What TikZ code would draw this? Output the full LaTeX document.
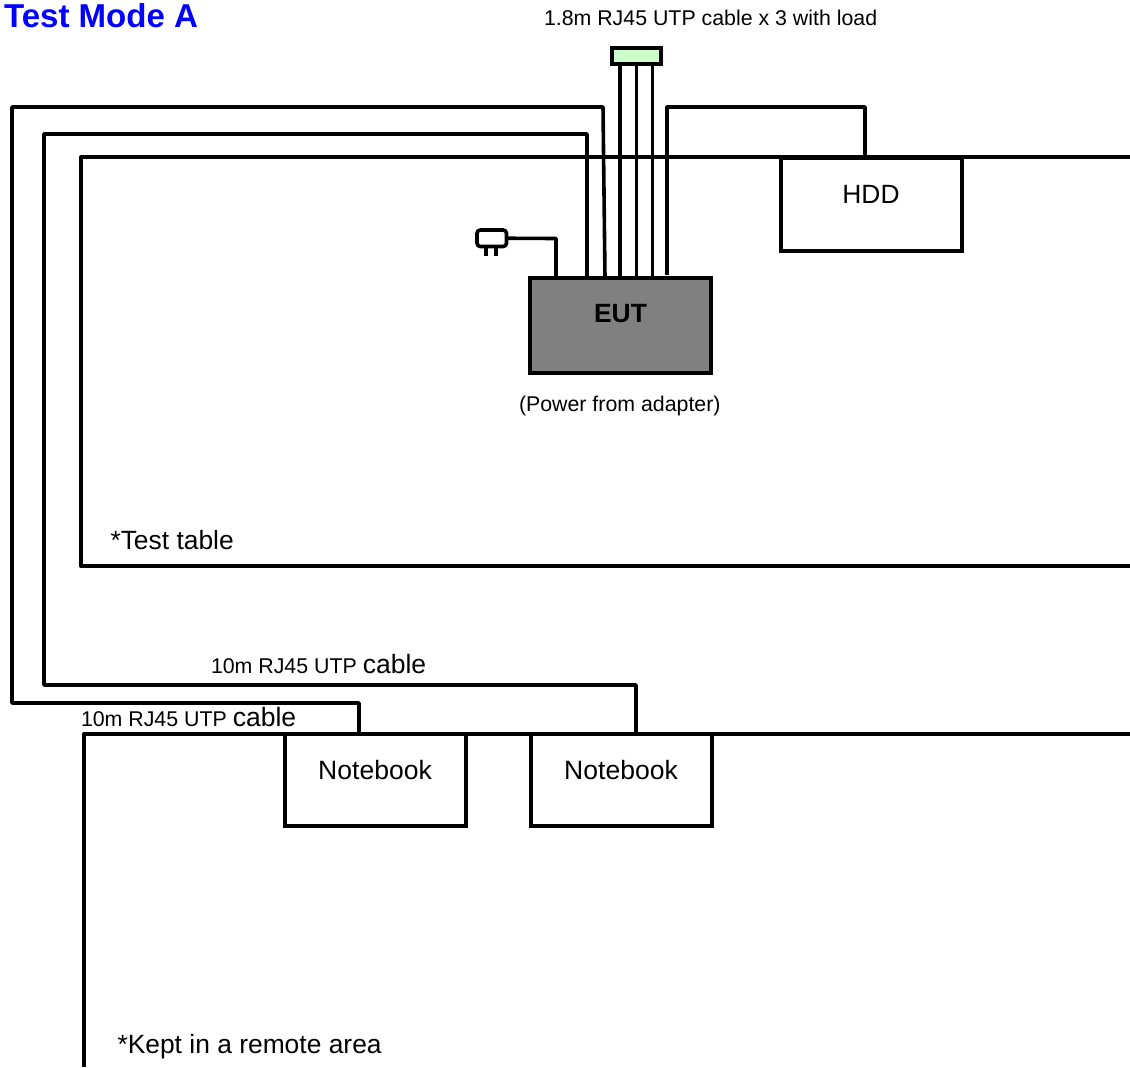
\documentclass[tikz,border=0pt]{standalone}
\usepackage{fontspec}
\setmainfont{Liberation Sans}
\definecolor{loadgreen}{RGB}{204,255,204}
\definecolor{eutgray}{RGB}{128,128,128}
\definecolor{titleblue}{RGB}{0,0,255}
\newcommand{\fs}[1]{\fontsize{#1}{#1}\selectfont}
\tikzset{
  px/.style={x=0.75pt,y=-0.75pt},
  heavy/.style={line width=3pt,line join=round},
  wire/.style={line width=2.7pt,line join=round},
  boxnode/.style={draw=black,line width=3pt,fill=white,inner sep=0pt,outer sep=0pt,text=black,align=center},
  lab/.style={inner sep=0pt,outer sep=0pt,anchor=base west,text=black},
}
\begin{document}
\begin{tikzpicture}[px]
\useasboundingbox[fill=white] (0,0) rectangle (1130,1067);
% table edges
\coordinate (tableR) at (1130,157);
\coordinate (tableC) at (81,157);
\coordinate (tableB) at (81,566);
\coordinate (tableE) at (1130,566);
\draw[heavy] (tableR) -- (tableC) -- (tableB) -- (tableE);
\coordinate (remR) at (1130,734);
\coordinate (remC) at (84,734);
\coordinate (remB) at (84,1067);
\draw[heavy] (remR) -- (remC) -- (remB);
% nodes
\node[boxnode,fill=eutgray,minimum width=181pt*0.75,minimum height=95pt*0.75] (eut) at (620.5,325.5) {};
\node[lab,anchor=base] (eutl) at (620.5,322) {\fs{19.8pt}\bfseries EUT};
\node[boxnode,minimum width=181pt*0.75,minimum height=93pt*0.75] (hdd) at (871,204) {};
\node[lab,anchor=base] (hddl) at (871,203) {\fs{19.8pt}HDD};
\node[boxnode,minimum width=181pt*0.75,minimum height=92pt*0.75] (nb1) at (375,780) {};
\node[lab,anchor=base] (nb1l) at (375,779) {\fs{19.9pt}Notebook};
\node[boxnode,minimum width=181pt*0.75,minimum height=92pt*0.75] (nb2) at (621,780) {};
\node[lab,anchor=base] (nb2l) at (621,779) {\fs{19.9pt}Notebook};
\node[boxnode,fill=loadgreen,line width=2.7pt,minimum width=49pt*0.75,minimum height=16pt*0.75] (load) at (636.5,56) {};
% plug
\node[draw=black,line width=2.7pt,fill=white,rounded corners=2.5pt,inner sep=0pt,outer sep=0pt,minimum width=29.5pt*0.75,minimum height=16.5pt*0.75] (plug) at (491.75,238.25) {};
\coordinate (pinA) at (486,256);
\coordinate (pinB) at (496,256);
\draw[wire] (pinA |- plug.south) -- (pinA);
\draw[wire] (pinB |- plug.south) -- (pinB);
% guide positions of the wires
\coordinate (xP) at (556,238.5);
\coordinate (xA) at (620,0);
\coordinate (xB) at (636.5,0);
\coordinate (xC) at (652.5,0);
\coordinate (xD) at (667,107);
\coordinate (dEnd) at (667,275);
\coordinate (xE) at (865,107);
\coordinate (fA) at (605,278);
\coordinate (fB) at (603,107);
\coordinate (fC) at (12,107);
\coordinate (fD) at (12,703);
\coordinate (fE) at (359,703);
\coordinate (gA) at (587,134);
\coordinate (gB) at (44,134);
\coordinate (gC) at (44,685);
\coordinate (gD) at (636,685);
% connectors
\draw[wire] (plug.east) -- (xP) -- (xP |- eut.north);
\draw[wire] (xA |- load.south) -- (xA |- eut.north);
\draw[wire] (xB |- load.south) -- (xB |- eut.north);
\draw[wire] (xC |- load.south) -- (xC |- eut.north);
\draw[wire] (dEnd) -- (xD) -- (xE) -- (xE |- hdd.north);
\draw[wire] (fA) -- (fB) -- (fC) -- (fD) -- (fE) -- (fE |- nb1.north);
\draw[wire] (gA |- eut.north) -- (gA) -- (gB) -- (gC) -- (gD) -- (gD |- nb2.north);
% labels
\node[lab] (title) at (4,27) {\fs{24.8pt}\bfseries\color{titleblue}Test Mode A};
\node[lab] (cabtop) at (544,26) {\fs{16pt}1.8m RJ45 UTP cable x 3 with load};
\node[lab] (pwr) at (519,411) {\fs{16pt}(Power from adapter)};
\node[lab] (tt) at (110.5,549) {\fs{19.8pt}*Test table};
\node[lab] (kept) at (117.5,1053) {\fs{19.8pt}*Kept in a remote area};
\node[lab] (c1) at (211,673) {\fs{16pt}10m RJ45 UTP \fs{19.9pt}cable};
\node[lab] (c2) at (81,726) {\fs{16pt}10m RJ45 UTP \fs{19.9pt}cable};
\end{tikzpicture}
\end{document}
